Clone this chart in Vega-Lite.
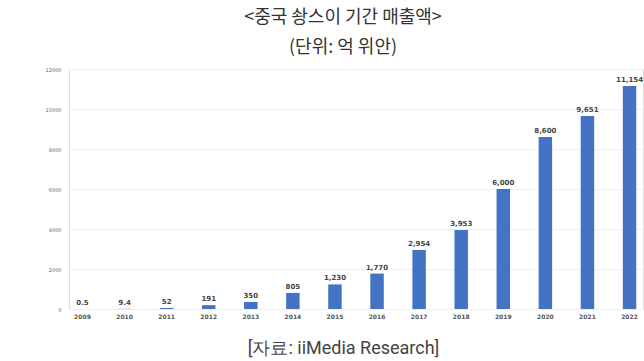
{
  "$schema": "https://vega.github.io/schema/vega-lite/v6.json",
  "autosize": "none",
  "width": 574,
  "height": 240,
  "padding": {"left": 69, "top": 69, "right": 1, "bottom": 52},
  "background": "white",
  "title": {
    "text": "<중국 솽스이 기간 매출액>",
    "subtitle": "(단위: 억 위안)",
    "anchor": "middle",
    "frame": "group",
    "dx": -13,
    "offset": 10,
    "font": "Noto Sans CJK KR",
    "fontSize": 18,
    "fontWeight": "normal",
    "color": "#333333",
    "subtitleFont": "Noto Sans CJK KR",
    "subtitleFontSize": 18,
    "subtitleColor": "#333333",
    "subtitlePadding": 12
  },
  "data": {
    "values": [
      {"year": "2009", "sales": 0.5},
      {"year": "2010", "sales": 9.4},
      {"year": "2011", "sales": 52},
      {"year": "2012", "sales": 191},
      {"year": "2013", "sales": 350},
      {"year": "2014", "sales": 805},
      {"year": "2015", "sales": 1230},
      {"year": "2016", "sales": 1770},
      {"year": "2017", "sales": 2954},
      {"year": "2018", "sales": 3953},
      {"year": "2019", "sales": 6000},
      {"year": "2020", "sales": 8600},
      {"year": "2021", "sales": 9651},
      {"year": "2022", "sales": 11154}
    ]
  },
  "encoding": {
    "x": {
      "field": "year",
      "type": "ordinal",
      "scale": {"paddingInner": 0.68, "paddingOuter": 0.16},
      "axis": {
        "labelAngle": 0,
        "labelFont": "DejaVu Sans",
        "labelFontSize": 6,
        "labelFontWeight": "bold",
        "labelColor": "#555555",
        "labelPadding": 4,
        "ticks": false,
        "domain": false,
        "title": "[자료: iiMedia Research]",
        "titleFont": "Roboto",
        "titleFontSize": 18,
        "titleFontWeight": "normal",
        "titleColor": "#444444",
        "titlePadding": 20,
        "titleX": 274
      }
    },
    "y": {
      "field": "sales",
      "type": "quantitative",
      "scale": {"domain": [0, 12000]},
      "axis": {
        "values": [0, 2000, 4000, 6000, 8000, 10000, 12000],
        "format": "d",
        "labelFont": "DejaVu Sans",
        "labelFontSize": 5,
        "labelColor": "#666666",
        "labelPadding": 8,
        "ticks": false,
        "domain": false,
        "gridColor": "#eeeeee",
        "title": null
      }
    }
  },
  "layer": [
    {"mark": {"type": "bar", "color": "#4472C4"}},
    {
      "mark": {
        "type": "text",
        "dy": -6,
        "font": "DejaVu Sans",
        "fontSize": 7,
        "fontWeight": "bold",
        "color": "#444444"
      },
      "encoding": {"text": {"field": "sales", "type": "quantitative", "format": ",~f"}}
    }
  ]
}
